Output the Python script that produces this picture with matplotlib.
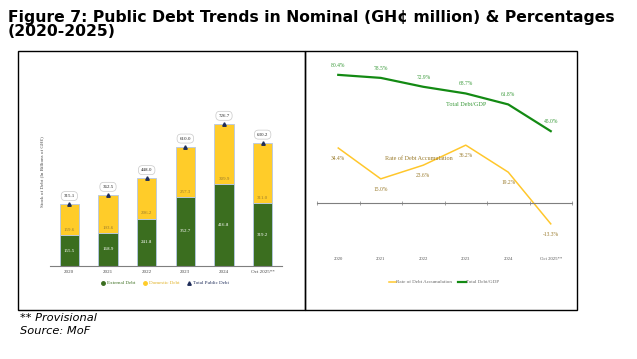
import matplotlib.pyplot as plt
from matplotlib.patches import Rectangle

# Données
years = ['2020', '2021', '2022', '2023', '2024', 'Oct 2025**']
external = [155.5, 168.9, 241.8, 352.7, 416.8, 319.2]
domestic = [159.6, 193.6, 206.2, 257.3, 309.9, 311.0]
total = [315.1, 362.5, 448.0, 610.0, 726.7, 630.2]

debt_gdp = [80.4, 78.5, 72.9, 68.7, 61.8, 45.0]
accumulation = [34.4, 15.0, 23.6, 36.2, 19.2, -13.3]

W, H = 637, 359
green_bar = '#3b6e1f'
yellow_bar = '#ffcc29'
navy = '#1f2d5a'
green_line = '#138a13'
yellow_line = '#ffc72c'
gold_text = '#9a7b2c'

fig = plt.figure(figsize=(W / 100, H / 100), dpi=100)

def fx(px):
    return px / W

def fy(py):
    return 1 - py / H

# Titre
fig.text(fx(8), fy(10), 'Figure 7: Public Debt Trends in Nominal (GH¢ million) & Percentages\n(2020-2025)',
         fontsize=11.25, fontweight='bold', va='top', ha='left', linespacing=0.95)

# Cadres
fig.add_artist(Rectangle((fx(18), fy(310)), fx(305) - fx(18), fy(51) - fy(310),
                         fill=False, edgecolor='black', linewidth=1.0, transform=fig.transFigure))
fig.add_artist(Rectangle((fx(305), fy(310)), fx(577) - fx(305), fy(51) - fy(310),
                         fill=False, edgecolor='black', linewidth=1.0, transform=fig.transFigure))

# Graphique à barres
ax1 = fig.add_axes([fx(50), fy(265.7), fx(232), 156 / H])
x = range(len(years))
ax1.bar(x, external, width=0.5, color=green_bar, edgecolor='#b4c7e7', linewidth=0.6, label='External Debt')
ax1.bar(x, domestic, width=0.5, bottom=external, color=yellow_bar, edgecolor='#b4c7e7', linewidth=0.6,
        label='Domestic Debt')
ax1.plot(x, total, '^', color=navy, markersize=2.5, label='Total Public Debt')
for i in x:
    ax1.text(i, external[i] / 2, f'{external[i]:.1f}', ha='center', va='center', fontsize=3.6,
             color='white', family='Liberation Serif')
    ax1.text(i, external[i] + 26, f'{domestic[i]:.1f}', ha='center', va='center', fontsize=3.6,
             color=gold_text, family='Liberation Serif')
    ax1.text(i, total[i] + 42, f'{total[i]:.1f}', ha='center', va='center', fontsize=3.6,
             color='#222222', family='Liberation Serif',
             bbox=dict(boxstyle='round,pad=0.5,rounding_size=0.8', facecolor='white', edgecolor='#c8c8c8',
                       linewidth=0.5))
ax1.set_xlim(-0.5, 5.5)
ax1.set_ylim(0, 800)
ax1.set_xticks(list(x))
ax1.set_xticklabels(years, fontsize=3.6, family='Liberation Serif', color='#444444')
ax1.tick_params(axis='x', length=0, pad=3)
ax1.set_yticks([])
for s in ['top', 'right', 'left']:
    ax1.spines[s].set_visible(False)
ax1.spines['bottom'].set_color('#7f7f7f')
ax1.spines['bottom'].set_linewidth(0.8)
fig.text(fx(42), fy(172), 'Stock of Debt (In Billions of GH¢)', rotation=90, ha='center', va='center',
         fontsize=3.6, family='Liberation Serif', color='#444444')

leg1 = ax1.legend(handles=[
    plt.Line2D([], [], marker='o', linestyle='', color=green_bar, markersize=2.5),
    plt.Line2D([], [], marker='o', linestyle='', color=yellow_bar, markersize=2.5),
    plt.Line2D([], [], marker='^', linestyle='', color=navy, markersize=2.5)],
    labels=['External Debt', 'Domestic Debt', 'Total Public Debt'],
    loc='center', bbox_to_anchor=(fx(165), fy(283)), bbox_transform=fig.transFigure, ncol=3,
    frameon=False, prop={'family': 'Liberation Serif', 'size': 3.6}, handletextpad=0.2,
    columnspacing=1.5, handlelength=1)
for t, c in zip(leg1.get_texts(), [green_bar, '#e0b020', navy]):
    t.set_color(c)

# Graphique en lignes
ax2 = fig.add_axes([fx(317), fy(266.3), fx(255), 206.7 / H])
ax2.plot(x, debt_gdp, color=green_line, linewidth=1.6, label='Total Debt/GDP')
ax2.plot(x, accumulation, color=yellow_line, linewidth=1.1, label='Rate of Debt Accumulation')
for i in x:
    ax2.text(i, debt_gdp[i] + 6, f'{debt_gdp[i]:.1f}%', ha='center', va='center', fontsize=4.0,
             color='#3a9a3a', family='Liberation Serif')
    ax2.text(i, accumulation[i] - 6.5, f'{accumulation[i]:.1f}%', ha='center', va='center', fontsize=4.0,
             color=gold_text, family='Liberation Serif')
ax2.text(3.0, 61.5, 'Total Debt/GDP', ha='center', va='center', fontsize=4.4, color='#3a9a3a',
         family='Liberation Serif')
ax2.text(1.9, 27.5, 'Rate of Debt Accumulation', ha='center', va='center', fontsize=4.4, color=gold_text,
         family='Liberation Serif')
for i, lab in enumerate(years):
    ax2.text(i, -35.4, lab, ha='center', va='center', fontsize=3.4, color='#555555',
             family='Liberation Serif')
ax2.set_xlim(-0.5, 5.5)
ax2.set_ylim(-40, 90)
ax2.set_yticks([])
ax2.set_xticks([i - 0.5 for i in range(7)])
ax2.set_xticklabels([])
ax2.tick_params(axis='x', direction='inout', length=2.5, width=0.5, color='#7f7f7f')
for s in ['top', 'right', 'left']:
    ax2.spines[s].set_visible(False)
ax2.spines['bottom'].set_position(('data', 0))
ax2.spines['bottom'].set_color('#7f7f7f')
ax2.spines['bottom'].set_linewidth(0.8)
handles, labels = ax2.get_legend_handles_labels()
leg2 = ax2.legend(handles[::-1], labels[::-1], loc='center', bbox_to_anchor=(fx(444), fy(282)),
                  bbox_transform=fig.transFigure, ncol=2, frameon=False,
                  prop={'family': 'Liberation Serif', 'size': 3.6}, handletextpad=0.1, columnspacing=1.2,
                  handlelength=1.5)
for t in leg2.get_texts():
    t.set_color('#666666')

# Notes
fig.text(fx(20), fy(318), '** Provisional', fontsize=8.2, style='italic', va='center')
fig.text(fx(20), fy(331), 'Source: MoF', fontsize=8.2, style='italic', va='center')

fig.savefig('out.png', dpi=100)
